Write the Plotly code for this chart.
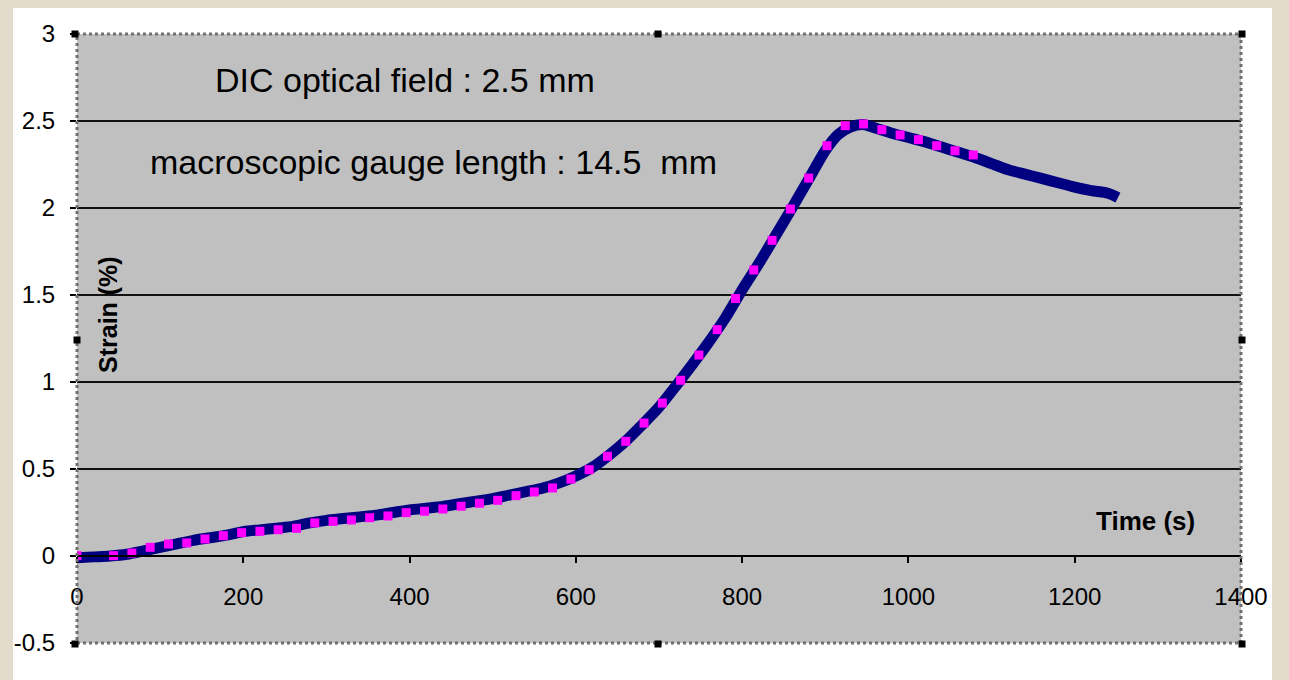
import plotly.graph_objects as go

# Navy trace: strain measured over the macroscopic gauge length
time_s = [0, 20, 40, 60, 80, 100, 120, 140, 160, 180, 200, 220, 240, 260, 280,
          300, 320, 340, 360, 380, 400, 420, 440, 460, 480, 500, 520, 540, 560,
          580, 600, 620, 640, 660, 680, 700, 720, 740, 760, 780, 800, 820, 840,
          860, 880, 900, 915, 930, 945, 960, 980, 1000, 1020, 1040, 1060, 1080,
          1100, 1120, 1140, 1160, 1180, 1200, 1220, 1240, 1252]
strain_pct = [-0.01, -0.005, 0.0, 0.01, 0.03, 0.05, 0.07, 0.09, 0.105, 0.12,
              0.14, 0.15, 0.16, 0.17, 0.19, 0.205, 0.215, 0.225, 0.235, 0.25,
              0.265, 0.275, 0.285, 0.30, 0.315, 0.33, 0.35, 0.37, 0.39, 0.42,
              0.46, 0.51, 0.58, 0.66, 0.755, 0.855, 0.975, 1.10, 1.23, 1.37,
              1.53, 1.68, 1.84, 2.00, 2.165, 2.33, 2.42, 2.465, 2.48, 2.46,
              2.43, 2.405, 2.38, 2.35, 2.32, 2.29, 2.255, 2.22, 2.195, 2.17,
              2.145, 2.12, 2.10, 2.085, 2.06]

# Magenta squares: DIC optical field measurement
dic_time_s = [0, 44, 66, 88, 110, 132, 154, 176, 198, 220, 242, 264, 286, 308,
              330, 352, 374, 396, 418, 440, 462, 484, 506, 528, 550, 572, 594,
              616, 638, 660, 682, 704, 726, 748, 770, 792, 814, 836, 858, 880,
              902, 924, 946, 968, 990, 1012, 1034, 1056, 1078]
dic_strain_pct = [0.002, 0.002, 0.017, 0.050, 0.069, 0.075, 0.098, 0.117,
                  0.134, 0.142, 0.151, 0.159, 0.190, 0.199, 0.207, 0.220,
                  0.230, 0.249, 0.257, 0.270, 0.286, 0.303, 0.320, 0.347,
                  0.368, 0.391, 0.442, 0.496, 0.573, 0.659, 0.764, 0.879,
                  1.010, 1.155, 1.301, 1.480, 1.644, 1.814, 1.994, 2.172,
                  2.358, 2.473, 2.483, 2.450, 2.420, 2.393, 2.358, 2.329,
                  2.305]

x_ticks = [0, 200, 400, 600, 800, 1000, 1200, 1400]
y_ticks = [-0.5, 0, 0.5, 1, 1.5, 2, 2.5, 3]
y_tick_text = ["-0.5", "0", "0.5", "1", "1.5", "2", "2.5", "3"]

W, H = 1289, 680
L, R, T, B = 77, 48, 34, 37
PW, PH = W - L - R, H - T - B
FONT = "Arial, Liberation Sans, sans-serif"


def px_x(p):
    return (p - L) / PW


def px_y(p):
    return (H - B - p) / PH


fig = go.Figure()

fig.add_trace(go.Scatter(
    x=time_s, y=strain_pct, mode="lines",
    line=dict(color="#000080", width=11, shape="spline", smoothing=0.8),
    hoverinfo="skip", showlegend=False,
))
fig.add_trace(go.Scatter(
    x=dic_time_s, y=dic_strain_pct, mode="markers",
    marker=dict(symbol="square", size=9, color="#FF00FF", line=dict(width=0)),
    hoverinfo="skip", showlegend=False,
))

shapes = [
    # white chart panel
    dict(type="rect", xref="paper", yref="paper", layer="below",
         x0=px_x(13), x1=px_x(1272), y0=px_y(690), y1=px_y(8),
         fillcolor="white", line=dict(width=0)),
    # grey plot area
    dict(type="rect", xref="paper", yref="paper", layer="below",
         x0=0, x1=1, y0=0, y1=1, fillcolor="#C0C0C0", line=dict(width=0)),
    # dotted frame around the plot area
    dict(type="rect", xref="paper", yref="paper", layer="above",
         x0=0, x1=1, y0=0, y1=1, fillcolor="rgba(0,0,0,0)",
         line=dict(color="#707070", width=3, dash="dot")),
]

# small black handles on the frame
for hx, hy in [(75, 34), (658, 34), (1242, 34), (77, 340), (1242, 340),
               (75, 644), (658, 644), (1242, 644)]:
    shapes.append(dict(type="rect", xref="paper", yref="paper", layer="above",
                       x0=px_x(hx - 3.5), x1=px_x(hx + 3.5),
                       y0=px_y(hy + 3.5), y1=px_y(hy - 3.5),
                       fillcolor="black", line=dict(width=0)))


def label(text, cx, cy, size, angle=0):
    return dict(text=text, x=px_x(cx), y=px_y(cy), xref="paper", yref="paper",
                xanchor="center", yanchor="middle", showarrow=False,
                textangle=angle,
                font=dict(family=FONT, size=size, color="black"))


annotations = [
    label("DIC optical field : 2.5 mm", 405, 80, 34),
    label("macroscopic gauge length : 14.5&nbsp; mm", 433, 162, 34),
    label("<b>Strain (%)</b>", 108, 315, 25, angle=-90),
    label("<b>Time (s)</b>", 1145, 521, 26),
]

fig.update_layout(
    width=W, height=H,
    margin=dict(l=L, r=R, t=T, b=B, pad=0),
    paper_bgcolor="#E3DBCB",
    plot_bgcolor="rgba(0,0,0,0)",
    shapes=shapes,
    annotations=annotations,
    showlegend=False,
    xaxis=dict(
        range=[0, 1400], tickvals=x_ticks, showgrid=False, zeroline=False,
        showline=True, linecolor="black", linewidth=2,
        anchor="free", position=1 / 7,
        ticks="outside", ticklen=6, tickwidth=2, tickcolor="black",
        ticklabelstandoff=13,
        tickfont=dict(family=FONT, size=24, color="black"),
        fixedrange=True,
    ),
    yaxis=dict(
        range=[-0.5, 3], tickvals=y_ticks, ticktext=y_tick_text,
        showgrid=True, gridcolor="#111111", gridwidth=2, zeroline=False,
        showline=False,
        ticks="outside", ticklen=6, tickwidth=2, tickcolor="black",
        ticklabelstandoff=10,
        tickfont=dict(family=FONT, size=24, color="black"),
        fixedrange=True,
    ),
)

fig.write_html("out.html", config={"displayModeBar": False})
